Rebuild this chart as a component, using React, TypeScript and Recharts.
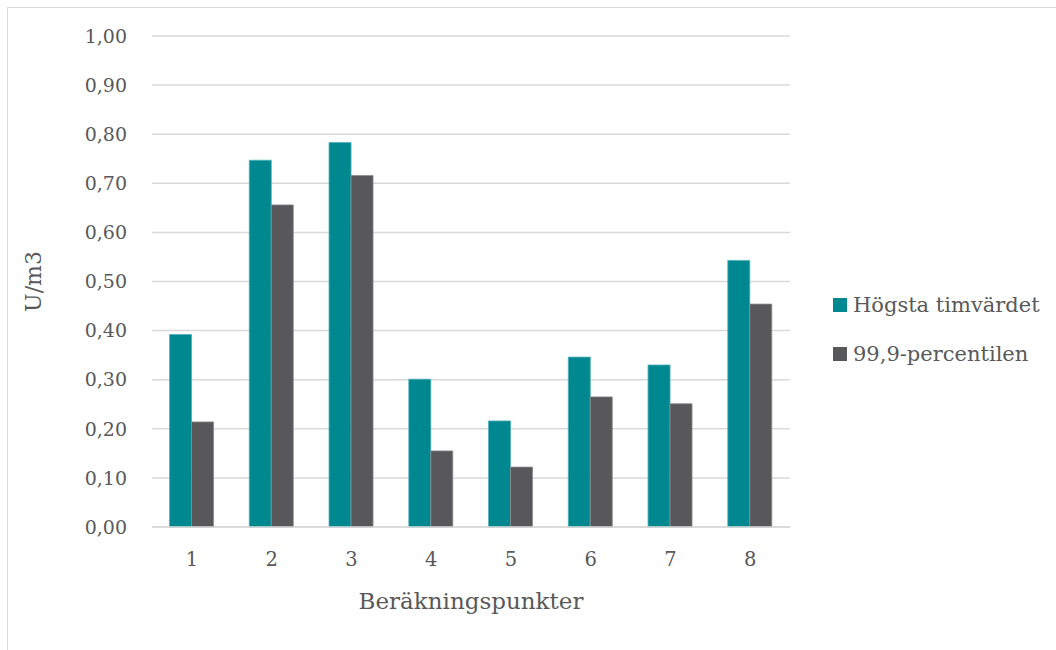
import { BarChart, Bar, XAxis, YAxis, CartesianGrid } from 'recharts'

const points = ['1', '2', '3', '4', '5', '6', '7', '8']
const hogstaTimvarde = [0.392, 0.747, 0.783, 0.301, 0.216, 0.346, 0.33, 0.543]
const percentil999 = [0.214, 0.656, 0.716, 0.155, 0.122, 0.265, 0.251, 0.454]
const yTicks = [0, 0.1, 0.2, 0.3, 0.4, 0.5, 0.6, 0.7, 0.8, 0.9, 1.0]
const seriesNames = ['Högsta timvärdet', '99,9-percentilen']

const TEAL = '#008891'
const GREY = '#58585b'
const TEXT = '#595959'
const GRID = '#d9d9d9'
const FONT = '"DejaVu Serif", serif'

const data = points.map((p, i) => ({ point: p, hogsta: hogstaTimvarde[i], percentil: percentil999[i] }))

const fmt = (v: number) => v.toFixed(2).replace('.', ',')

function YTitle({ viewBox }: any) {
  const x = viewBox.x + 33
  const y = viewBox.y + viewBox.height / 2
  return (
    <text x={x} y={y} transform={`rotate(-90 ${x} ${y})`} textAnchor="middle" dominantBaseline="central"
      fill={TEXT} fontSize={22} fontFamily={FONT}>
      U/m3
    </text>
  )
}

export default function App() {
  return (
    <div style={{ position: 'absolute', left: 0, top: 0, width: 1056, height: 650, background: '#fff' }}>
      <div style={{ position: 'absolute', left: 7, top: 7, width: 1049, height: 643, borderTop: `1px solid ${GRID}`, borderLeft: `1px solid ${GRID}` }} />
      <BarChart width={1056} height={650} data={data} margin={{ top: 36, right: 266, bottom: 33, left: 0 }}
        barCategoryGap="22%" barGap={0} style={{ position: 'absolute', left: 0, top: 0 }}>
        <CartesianGrid vertical={false} stroke={GRID} strokeWidth={1.5} />
        <XAxis dataKey="point" height={90} tickLine={false} tickSize={0} tickMargin={25}
          axisLine={{ stroke: GRID, strokeWidth: 1.5 }}
          tick={{ fill: TEXT, fontSize: 19.5, fontFamily: FONT }}
          label={{ value: 'Beräkningspunkter', position: 'insideBottom', offset: 8, fill: TEXT, fontSize: 23, fontFamily: FONT }} />
        <YAxis width={152} domain={[0, 1]} ticks={yTicks} tickFormatter={fmt} interval={0}
          axisLine={false} tickLine={false} tickSize={0} tickMargin={25}
          tick={{ fill: TEXT, fontSize: 19, fontFamily: FONT }}
          label={<YTitle />} />
        <Bar dataKey="hogsta" name={seriesNames[0]} fill={TEAL} stroke="#4fb0b6" strokeWidth={0.8} isAnimationActive={false} />
        <Bar dataKey="percentil" name={seriesNames[1]} fill={GREY} stroke="#8a8a8d" strokeWidth={0.8} isAnimationActive={false} />
      </BarChart>
      <div style={{ position: 'absolute', left: 833, top: 290, fontFamily: FONT, fontSize: 21, color: TEXT }}>
        {seriesNames.map((name, i) => (
          <div key={name} style={{ display: 'flex', alignItems: 'center', height: 30, marginBottom: i === 0 ? 19 : 0 }}>
            <span style={{ display: 'inline-block', width: 14, height: 14, background: i === 0 ? TEAL : GREY, marginRight: 6 }} />
            <span>{name}</span>
          </div>
        ))}
      </div>
    </div>
  )
}
